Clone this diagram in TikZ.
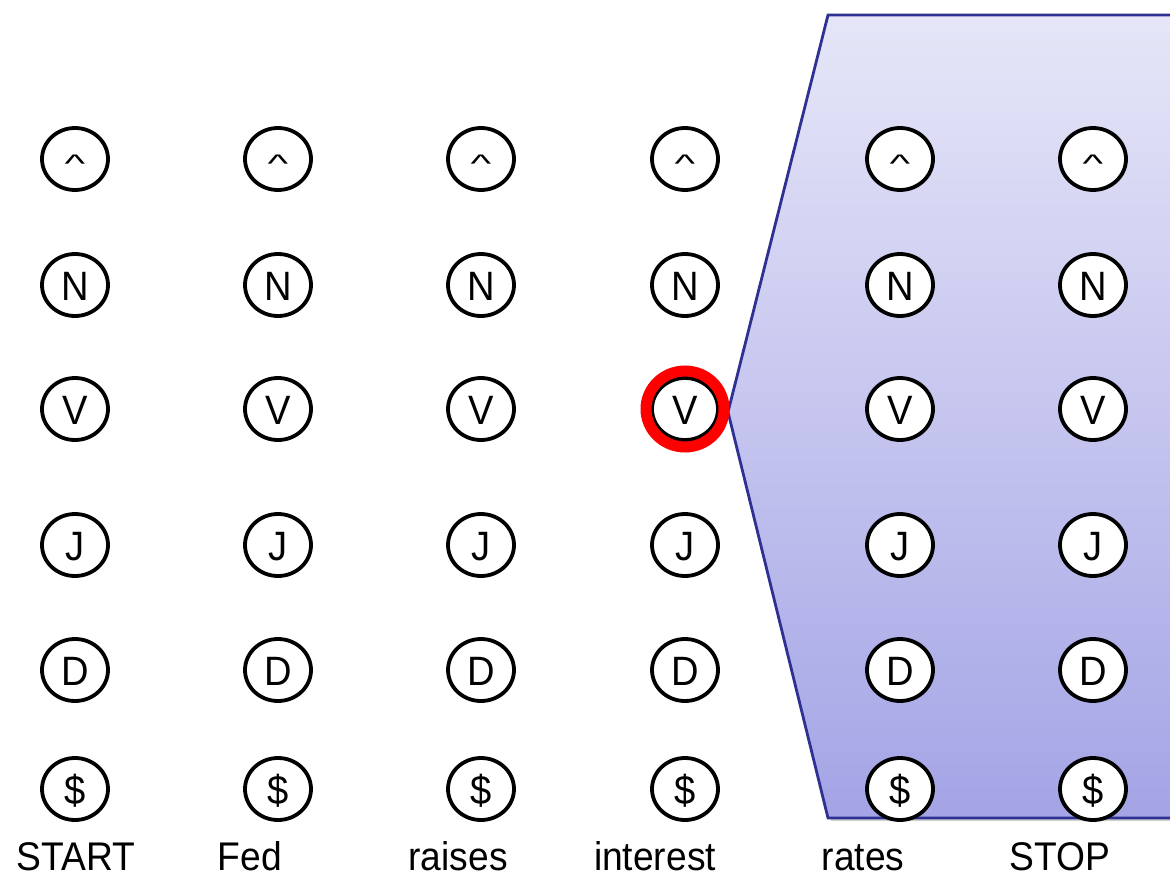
\documentclass[tikz,border=0pt]{standalone}
\usepackage{fontspec}
\usepackage{graphicx}
\newfontfamily\lab{Liberation Sans}[FakeStretch=0.93]
\usetikzlibrary{shapes.geometric}
\definecolor{polyTop}{RGB}{230,230,248}
\definecolor{polyBot}{RGB}{164,164,230}
\definecolor{polyEdge}{RGB}{46,49,146}
\newcommand{\caretsym}{\scalebox{1.15}[0.62]{\char"5E}}
\begin{document}
\begin{tikzpicture}[x=1pt,y=-1pt,
  st/.style={draw=black, line width=3.8pt, fill=white, ellipse, inner sep=0pt, minimum width=66pt, minimum height=62pt},
  lt/.style={font=\lab\fontsize{41}{48}\selectfont, inner sep=0pt, anchor=base},
  wd/.style={font=\lab\fontsize{40}{48}\selectfont, inner sep=0pt, anchor=base},
  hl/.style={draw=red, line width=11pt, ellipse, inner sep=0pt, minimum width=78pt, minimum height=76pt}]
\useasboundingbox (0,0) rectangle (1170,875);
% shaded polygon
\fill[black, opacity=0.18] (831,18) -- (1185,18) -- (1185,821) -- (831,821) -- (731,415) -- cycle;
\draw[polyEdge, line width=2.8pt, top color=polyTop, bottom color=polyBot]
  (828,15) -- (1185,15) -- (1185,818) -- (828,818) -- (728,412) -- cycle;
% state circles
\foreach \x [count=\i] in {75,278,481,685,900,1093} {
  \foreach \y/\t/\o [count=\j] in {159/\caretsym/13, 285/N/15, 409/V/15, 545/J/15, 670/D/15, 789/\$/15} {
    \node[st] (c-\i-\j) at (\x,\y) {};
    \node[lt] (t-\i-\j) at ([yshift=-\o pt]c-\i-\j.center) {\t};
  }
}
% highlight
\node[hl] (hv) at (c-4-3.center) {};
% words
\node[wd] (w1) at (76,870) {START};
\node[wd] (w2) at (250,870) {Fed};
\node[wd] (w3) at (458,870) {raises};
\node[wd] (w4) at (655,870) {interest};
\node[wd] (w5) at (863,870) {rates};
\node[wd] (w6) at (1060,870) {STOP};
\end{tikzpicture}
\end{document}
